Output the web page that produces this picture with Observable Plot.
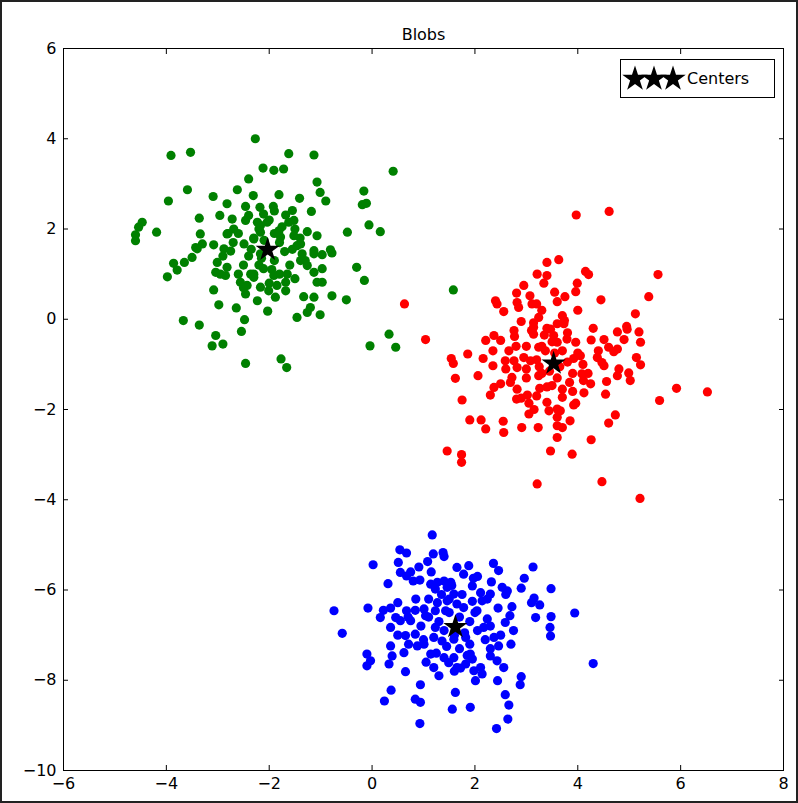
<!DOCTYPE html>
<html><head><meta charset="utf-8">
<script src="https://cdn.jsdelivr.net/npm/d3@7"></script>
<script src="https://cdn.jsdelivr.net/npm/@observablehq/plot@0.6"></script>
<style>
html,body{margin:0;padding:0;background:#fff;}
#wrap{position:relative;width:798px;height:803px;box-sizing:border-box;border:2px solid #222;overflow:hidden;font-family:"DejaVu Sans",sans-serif;background:#fff;}
#legend{position:absolute;left:618px;top:57px;width:155px;height:39px;box-sizing:border-box;border:1px solid #000;background:#fff;}
#legend svg{position:absolute;left:0;top:0;}
#legend span{position:absolute;left:66px;top:9px;font-size:16px;color:#000;}
</style></head><body>
<div id="wrap"><div id="chart"></div><div id="legend"><svg id="lstars" width="70" height="37"></svg><span id="ltext"></span></div></div>
<script>
const title = ["Blobs"];
const legendLabel = "Centers";
const xTicks = [-6, -4, -2, 0, 2, 4, 6, 8];
const yTicks = [-10, -8, -6, -4, -2, 0, 2, 4, 6];

const centers = [[-2.03, 1.54], [3.53, -0.98], [1.62, -6.82]];

const green = [
[-2.27,4.0],[-3.91,3.63],[-3.53,3.70],[-2.12,3.35],[-2.40,3.11],[-2.62,2.87],[-3.59,2.87],[-3.96,2.62],[-3.09,2.72],[-2.31,2.74],[-2.82,2.56],[-2.46,2.50],[-2.18,2.48],[-4.47,2.15],[-4.54,2.04],[-4.60,1.87],[-4.19,1.93],[-3.36,2.24],[-2.96,2.30],[-2.72,2.22],[-2.69,2.0],[-2.46,2.19],[-2.82,1.89],[-3.34,1.89],[-3.30,1.67],[-3.08,1.65],[-2.49,1.67],[-2.23,2.15],[-2.17,1.93],[-2.30,1.78],[-3.43,1.59],
[-1.62,3.67],[-1.13,3.64],[-1.91,3.30],[-1.72,3.33],[0.41,3.28],[-1.07,3.04],[-1.01,2.81],[-0.90,2.62],[-0.16,2.84],[-0.19,2.54],[-0.11,2.57],[-1.81,2.76],[-1.41,2.68],[-1.92,2.50],[-1.18,2.39],[-1.68,2.31],[-1.55,2.41],[-1.52,2.19],[-1.62,2.15],[-2.11,2.33],[-2.04,2.15],[-2.17,2.08],[-0.06,2.09],[0.16,1.94],[-0.48,1.93],[-1.26,1.94],[-1.07,1.85],[-1.81,1.96],[-1.78,1.82],[-1.52,1.85],[-1.39,1.67],[-1.13,1.52],[-0.81,1.54],
[-4.60,1.74],[-3.40,1.56],[-2.88,1.56],[-2.75,1.51],[-3.50,1.37],[-3.86,1.24],[-3.65,1.26],[-3.79,1.09],[-3.98,0.94],[-3.01,1.26],[-3.04,1.04],[-2.82,1.15],[-2.95,1.0],[-2.85,0.97],[-2.17,1.45],[-2.36,1.0],[-2.30,0.93],[-2.56,0.82],[-2.43,0.75],[-2.46,0.56],[-2.11,1.12],[-2.17,0.71],[-2.01,0.63],[-2.23,0.41],[-3.08,0.65],[-2.98,0.32],[-2.64,0.25],[-2.03,0.18],[-2.48,-0.01],[-2.54,-0.27],[-3.67,-0.03],[-3.36,-0.13],[-3.04,-0.36],[-3.11,-0.59],[-2.90,-0.55],[-2.46,-0.98],
[-1.46,1.63],[-1.36,1.45],[-1.39,1.30],[-1.13,1.45],[-0.97,1.43],[-0.78,1.47],[-0.30,1.15],[-0.15,0.86],[-1.26,1.19],[-1.13,1.04],[-0.97,1.12],[-1.91,0.97],[-1.65,1.0],[-1.07,0.82],[-0.97,0.82],[-1.68,0.82],[-1.68,0.63],[-1.88,0.49],[-1.33,0.50],[-1.13,0.49],[-0.78,0.52],[-0.50,0.43],[-1.20,0.26],[-1.26,0.15],[-1.46,0.04],[-1.01,0.10],[0.33,-0.33],[-0.04,-0.59],[0.46,-0.62],[-1.77,-0.88],[-1.66,-1.07],[1.58,0.65],
[-2.3,1.8],[-2.2,2.0],[-1.9,1.9],[-1.8,1.7],[-1.7,1.5],[-2.4,1.4],[-2.5,1.2],[-2.2,1.2],[-1.9,1.3],[-1.6,1.2],[-2.6,1.9],[-2.7,1.7],[-2.0,2.2],[-1.5,2.0],[-1.4,1.8],[-2.3,1.0],[-2.6,1.0],[-1.8,1.0],[-2.0,0.8],[-1.5,0.9],[-2.9,1.4],[-2.8,1.9],[-1.3,1.3],[-2.4,2.3],[-1.9,2.4],[-2.1,1.75],[-1.75,2.05],[-2.35,1.55],[-1.55,1.55],[-2.15,1.35],[-1.95,1.1],[-2.5,0.7],[-1.85,0.75]
];

const red = [
[0.63,0.34],[3.40,1.26],[3.63,1.32],[3.21,1.0],[3.40,0.97],[3.34,0.80],[2.81,0.58],[2.82,0.37],[2.85,0.26],[2.40,0.41],[2.43,0.34],[2.56,0.17],[3.07,0.52],[3.20,0.34],[3.11,0.34],[3.60,0.39],[3.24,0.04],[3.14,-0.08],
[3.97,2.31],[4.61,2.39],[4.15,1.06],[4.21,0.99],[3.99,0.80],[3.96,0.61],[5.56,0.99],[5.38,0.50],[4.45,0.43],[5.12,0.12],[3.70,0.08],[3.74,-0.03],[4.95,-0.16],
[1.04,-0.45],[1.54,-0.87],[1.58,-0.98],[1.86,-0.77],[1.62,-1.31],[2.06,-1.25],[1.75,-1.79],[1.90,-2.23],[2.12,-2.23],[2.21,-2.43],[2.55,-2.26],[2.56,-2.51],[2.91,-2.40],[3.23,-2.40],[3.47,-2.92],[3.60,-2.62],[1.46,-2.92],[1.74,-3.0],[1.74,-3.17],[3.21,-3.65],[2.21,-0.47],[2.37,-0.36],[2.50,-0.47],[2.76,-0.25],[2.77,-0.38],[2.16,-0.87],[2.35,-0.70],[2.35,-1.03],[2.66,-0.70],[2.59,-0.92],[2.76,-0.92],[2.82,-1.07],[3.14,-0.18],[3.14,-0.33],[2.95,-0.85],[3.08,-0.92],[3.24,-0.62],[3.37,-0.70],[3.24,-1.25],[2.72,-1.29],[2.69,-1.40],[2.37,-1.51],[2.50,-1.43],[2.30,-1.68],[2.82,-1.55],[2.81,-1.77],[3.02,-1.68],[3.05,-1.86],[3.05,-2.10],[3.26,-1.53],[3.50,-1.47],[3.40,-1.84],[3.44,-2.03],[3.60,-1.99],[3.60,-2.36],
[3.73,-0.10],[3.47,-0.22],[3.53,-0.36],[3.60,-0.51],[3.79,-0.44],[3.96,-0.51],[4.26,-0.46],[4.51,-0.45],[4.77,-0.28],[4.96,-0.22],[4.90,-0.45],[5.19,-0.28],[5.22,-0.51],[4.60,-0.62],[4.70,-0.72],[4.77,-0.66],[4.38,-0.85],[4.47,-0.96],[4.51,-1.03],[3.92,-0.87],[4.05,-0.81],[5.14,-0.85],[5.22,-1.01],[4.80,-1.10],[4.77,-1.25],[4.99,-1.19],[5.02,-1.36],[4.08,-1.21],[4.11,-1.36],[4.25,-1.43],[3.84,-1.40],[4.56,-1.38],[4.54,-1.66],[4.12,-1.63],[3.70,-1.73],[3.96,-1.86],[3.92,-1.90],[3.66,-2.03],[3.60,-2.17],[3.70,-2.40],[4.73,-2.12],[4.60,-2.30],[5.59,-1.80],[5.92,-1.53],[6.52,-1.61],[4.26,-2.67],[3.89,-2.99],[4.47,-3.60],[5.21,-3.97],
[3.3,-0.6],[3.5,-0.5],[3.7,-0.7],[3.8,-0.95],[3.9,-1.2],[3.6,-1.3],[3.3,-1.2],[3.2,-0.9],[3.0,-1.1],[3.0,-0.6],[3.4,-0.2],[3.6,-0.1],[3.8,-0.3],[4.0,-0.75],[4.1,-1.0],[3.4,-1.5],[3.2,-1.7],[3.0,-1.3],[2.8,-0.6],[3.7,-1.55],[3.9,-1.6],[3.35,-0.35],[3.55,-0.75],[3.25,-1.05],[3.65,-1.05],[3.45,-1.15],[3.1,-0.25],[2.9,-0.05],[3.3,0.2],[4.3,-0.2],[4.4,-0.7],[4.2,-1.2],[2.6,-1.1],[2.9,-1.75],[3.15,-2.0],[3.85,-2.25],[4.0,0.2],[3.55,0.6],[2.95,0.75],[3.75,0.5]
];

const blue = [
[1.17,-4.78],[0.54,-5.11],[0.67,-5.18],[1.19,-5.20],[1.38,-5.17],[1.40,-5.26],[0.02,-5.44],[0.51,-5.39],[0.91,-5.49],[1.08,-5.37],[0.55,-5.61],[0.67,-5.69],[0.80,-5.80],[0.93,-5.78],[0.31,-5.86],[1.14,-5.87],[1.27,-5.83],[1.40,-5.80],[1.53,-5.83],[1.23,-5.98],[1.46,-5.94],[1.65,-5.50],[-0.74,-6.46],[-0.08,-6.40],[0.22,-6.45],[0.36,-6.40],[0.50,-6.28],[0.16,-6.61],[0.46,-6.61],[0.67,-6.46],[0.84,-6.45],[1.01,-6.42],[1.04,-6.57],[0.55,-6.68],[0.75,-6.68],[1.27,-6.28],[1.46,-6.24],[1.23,-6.46],[1.43,-6.46],[0.36,-6.83],[0.65,-7.01],[0.84,-6.98],[-0.58,-6.96],[1.23,-6.83],[1.59,-6.09],[1.65,-6.31],
[2.36,-5.41],[2.46,-5.57],[1.88,-5.46],[1.78,-5.65],[1.97,-5.74],[1.95,-5.91],[3.13,-5.49],[2.96,-5.74],[2.32,-5.82],[2.53,-5.94],[2.63,-6.02],[2.90,-5.96],[3.48,-5.97],[2.11,-6.06],[2.30,-6.09],[2.14,-6.24],[2.24,-6.20],[3.15,-6.18],[3.10,-6.28],[3.26,-6.33],[2.72,-6.37],[2.68,-6.57],[2.59,-6.72],[3.18,-6.61],[3.48,-6.59],[3.94,-6.51],[3.46,-6.83],[3.47,-7.02],[1.78,-6.39],[2.04,-6.46],[2.24,-6.64],[2.17,-6.83],[2.37,-7.05],
[-0.10,-7.42],[-0.03,-7.57],[-0.10,-7.68],[0.36,-7.24],[0.39,-7.46],[0.33,-7.64],[0.71,-7.20],[0.62,-7.39],[0.88,-7.24],[1.01,-7.20],[1.14,-7.42],[1.20,-7.72],[1.30,-7.90],[1.36,-7.13],[1.40,-7.50],[1.49,-7.61],[1.59,-7.09],[1.59,-7.50],[1.65,-7.72],[0.65,-7.81],[0.94,-8.10],[0.37,-8.22],[0.24,-8.46],[0.84,-8.42],[0.94,-8.49],[0.93,-8.96],[1.62,-8.27],[1.56,-8.64],
[4.30,-7.63],[1.82,-7.05],[2.46,-7.24],[1.91,-7.42],[1.95,-7.53],[2.30,-7.46],[2.43,-7.57],[2.56,-7.72],[1.72,-7.73],[1.82,-7.64],[1.98,-7.79],[2.11,-7.72],[2.14,-7.86],[2.01,-8.01],[2.44,-8.01],[2.90,-7.92],[2.88,-8.10],[1.91,-8.60],[2.59,-8.32],[2.66,-8.55],[2.64,-8.86],[2.42,-9.07],
[1.5,-6.5],[1.7,-6.6],[1.9,-6.7],[1.8,-6.95],[1.6,-7.0],[1.4,-6.9],[1.3,-6.7],[1.2,-7.05],[1.45,-7.25],[1.7,-7.3],[1.9,-7.2],[2.05,-6.9],[2.2,-7.1],[2.3,-6.8],[2.0,-6.5],[1.1,-6.6],[0.95,-6.8],[1.0,-7.1],[1.5,-6.2],[1.75,-6.1],[1.95,-6.25],[2.45,-6.4],[2.5,-7.0],[1.35,-6.1],[1.1,-6.2],[0.85,-6.2],[0.7,-6.6],[1.25,-7.4],[1.85,-7.45],[2.3,-7.3],[1.6,-7.8],[1.05,-7.6],[2.7,-7.2],[2.75,-6.9],[0.5,-7.0],[1.55,-5.9],[2.05,-5.7],[0.75,-5.6],[1.15,-5.6],[2.6,-6.1]
];

const colors = {green: "#008000", red: "#ff0000", blue: "#0000ff"};
const FONT = 16;

const W = 794, H = 799;
const fmt = d => d < 0 ? "\u2212" + Math.abs(d) : String(d);
const dotOpts = {x: d => d[0], y: d => d[1], r: 4.6};

const chart = Plot.plot({
  width: W, height: H,
  marginLeft: 61, marginRight: 13, marginTop: 46, marginBottom: 31,
  style: {fontFamily: "DejaVu Sans, sans-serif", fontSize: FONT + "px", color: "#000", background: "#fff"},
  x: {domain: [-6, 8], ticks: xTicks},
  y: {domain: [-10, 6], ticks: yTicks},
  marks: [
    Plot.dot(green, {...dotOpts, fill: colors.green}),
    Plot.dot(red, {...dotOpts, fill: colors.red}),
    Plot.dot(blue, {...dotOpts, fill: colors.blue}),
    Plot.dot(centers, {x: d => d[0], y: d => d[1], symbol: "star", r: 7.6, fill: "black"}),
    Plot.frame({stroke: "black", strokeWidth: 1}),
    Plot.axisX(xTicks, {anchor: "bottom", tickSize: 0, tickPadding: 7, tickFormat: fmt, label: null, fontSize: FONT}),
    Plot.axisY(yTicks, {anchor: "left", tickSize: 0, tickPadding: 7, tickFormat: fmt, label: null, fontSize: FONT}),
    Plot.axisX(xTicks, {anchor: "bottom", tickSize: -5, tickFormat: () => "", label: null}),
    Plot.axisX(xTicks, {anchor: "top", tickSize: -5, tickFormat: () => "", label: null}),
    Plot.axisY(yTicks, {anchor: "left", tickSize: -5, tickFormat: () => "", label: null}),
    Plot.axisY(yTicks, {anchor: "right", tickSize: -5, tickFormat: () => "", label: null}),
    Plot.text(title, {frameAnchor: "top", lineAnchor: "middle", dy: -14, fontSize: FONT, fill: "black"})
  ]
});
document.getElementById("chart").appendChild(chart);

// legend
const ls = d3.select("#lstars");
const starPath = d3.symbol(d3.symbolStar, Math.PI * 8 * 8)();
[14, 33, 52].forEach(cx => {
  ls.append("path").attr("d", starPath).attr("transform", `translate(${cx},19)`).attr("fill", "black");
});
document.getElementById("ltext").textContent = legendLabel;
</script>
</body></html>
